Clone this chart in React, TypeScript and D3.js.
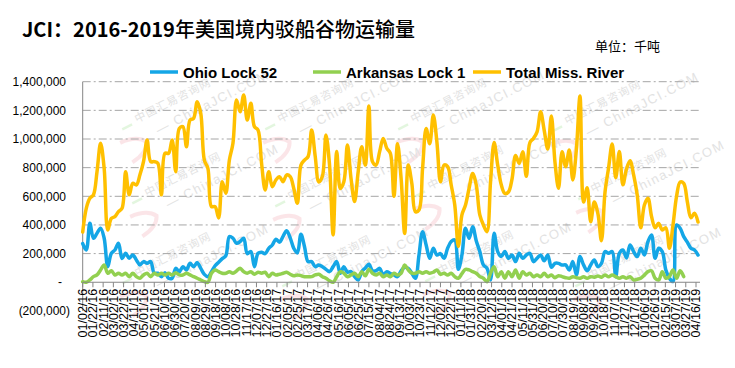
import React from 'react';
import * as d3 from 'd3';

// weekly values, thousand units, first week = 01/02/16
const startDate = new Date(Date.UTC(2016, 0, 2));

const ohioLock52 = [
  270, 225, 412, 307, 342, 377, 307, 109, 202, 225,
  272, 165, 202, 167, 191, 156, 121, 144, 132, 144,
  63, 63, 39, 67, 28, 28, 97, 74, 109, 86,
  132, 109, 137, 97, 55, 39, 74, 115, 140, 165,
  185, 319, 307, 272, 284, 307, 200, 214, 109, 202,
  210, 200, 237, 260, 300, 280, 320, 360, 310, 237,
  205, 335, 248, 144, 144, 109, 121, 109, 90, 74,
  109, 144, 63, 109, 70, 74, 39, 16, 74, 100,
  125, 80, 80, 97, 51, 74, 60, 51, 39, 80,
  105, 97, 63, 28, 190, 353, 260, 167, 237, 190,
  200, 167, 237, 284, 295, 90, 190, 377, 307, 388,
  290, 214, 121, 97, 16, 342, 214, 179, 214, 167,
  190, 144, 202, 167, 190, 202, 144, 167, 190, 150,
  190, 105, 132, 132, 120, 121, 86, 144, 51, 179,
  121, 80, 121, 156, 109, 132, 214, 202, 214, 39,
  202, 225, 170, 260, 214, 179, 237, 190, 284, 330,
  167, 237, 214, 86, 28, 5, 400, 377, 318, 280,
  237, 225, 190,
];

const arkansasLock1 = [
  4, 0, 16, 39, 51, 86, 121, 63, 81, 51,
  63, 51, 63, 39, 63, 39, 28, 51, 63, 39,
  63, 51, 63, 51, 63, 51, 67, 51, 51, 63,
  51, 39, 28, 16, 4, 0, 63, 86, 74, 63,
  63, 74, 63, 79, 97, 74, 63, 74, 56, 70,
  63, 70, 39, 63, 51, 56, 63, 70, 56, 45,
  51, 46, 39, 39, 39, 51, 56, 39, 28, 10,
  0, 39, 74, 63, 39, 51, 63, 39, 74, 45,
  90, 63, 51, 63, 39, 51, 39, 63, 51, 63,
  121, 86, 63, 63, 74, 63, 74, 63, 70, 86,
  55, 63, 51, 63, 39, 28, 60, 90, 86, 74,
  63, 39, 28, 4, 63, 109, 39, 74, 28, 74,
  39, 86, 28, 74, 51, 63, 39, 51, 39, 63,
  39, 51, 32, 46, 39, 32, 28, 39, 32, 28,
  39, 28, 39, 35, 44, 35, 51, 39, 51, 39,
  28, 39, 28, 39, 16, 21, 28, 50, 74, 80,
  28, 16, 74, 28, 40, 86, 28, 80, 39,
];

const totalMissRiver = [
  350, 516, 586, 610, 772, 970, 795, 365, 446, 458,
  493, 516, 772, 610, 690, 680, 750, 842, 993, 842,
  842, 830, 610, 900, 900, 993, 772, 1074, 1086, 946,
  1132, 1144, 1260, 1179, 853, 795, 528, 528, 449, 702,
  621, 853, 970, 1272, 1190, 1307, 1132, 1249, 1086, 1063,
  830, 644, 772, 667, 714, 737, 702, 749, 737, 655,
  551, 818, 853, 877, 1063, 877, 700, 740, 1028, 818,
  330, 912, 655, 702, 958, 725, 563, 772, 946, 818,
  1230, 842, 818, 912, 1004, 935, 900, 600, 967, 725,
  341, 818, 690, 493, 505, 795, 1074, 967, 1167, 981,
  702, 818, 807, 679, 539, 250, 470, 539, 655, 760,
  679, 470, 400, 353, 702, 975, 818, 680, 620, 630,
  720, 885, 830, 911, 740, 975, 1004, 1050, 1190, 1060,
  930, 1160, 840, 656, 911, 807, 923, 714, 930, 1300,
  560, 660, 423, 560, 480, 290, 630, 800, 965, 730,
  912, 680, 790, 848, 749, 609, 380, 539, 586, 460,
  380, 411, 365, 380, 237, 400, 600, 700, 690, 563,
  450, 481, 420,
];

const yTicks = [-200, 0, 200, 400, 600, 800, 1000, 1200, 1400];
const tickEveryDays = 20;
const tickCount = 61;

const seriesList = [
  { name: 'Ohio Lock 52', values: ohioLock52, color: '#14a6e6', legendX: 150 },
  { name: 'Arkansas Lock 1', values: arkansasLock1, color: '#92d050', legendX: 313 },
  { name: 'Total Miss. River', values: totalMissRiver, color: '#ffc000', legendX: 473 },
];

// watermark anchors (decoration)
const marks = [
  [137, 123], [280, 123], [413, 123], [567, 125],
  [147, 197], [290, 200], [430, 190], [593, 193],
  [137, 277], [297, 280], [440, 275], [590, 280],
];

const W = 735;
const H = 368;

export default function App() {
  const x = d3.scaleUtc()
    .domain([startDate, d3.utcDay.offset(startDate, tickEveryDays * (tickCount - 1))])
    .range([82.7, 696]);
  const y = d3.scaleLinear().domain([-200, 1400]).range([310.9, 81.7]);

  const weekX = (i: number) => x(d3.utcDay.offset(startDate, 7 * i));
  const line = d3.line<number>()
    .x((d, i) => weekX(i))
    .y(d => y(d))
    .curve(d3.curveCatmullRom.alpha(0.5));

  const ticks = d3.range(tickCount).map(k => d3.utcDay.offset(startDate, tickEveryDays * k));
  const fmtDate = d3.utcFormat('%m/%d/%y');
  const fmtNum = d3.format(',');
  const yLabel = (v: number) => (v === 0 ? '-' : v < 0 ? `(${fmtNum(-v * 1000)})` : fmtNum(v * 1000));
  const yLabelX = (v: number) => (v === 0 ? 62 : v < 0 ? 70 : 66);

  const axisFont = '"Liberation Sans", Arial, sans-serif';

  return (
    <svg width={W} height={H} style={{ position: 'absolute', left: 0, top: 0 }} xmlns="http://www.w3.org/2000/svg">
      <rect width={W} height={H} fill="#fff" />

      {/* watermark */}
      <g>
        {marks.map(([mx, my], k) => (
          <g key={k} transform={`translate(${mx},${my}) rotate(-27)`}>
            <path d="M -24 10 Q -6 11 0 21 Q -4 31 -22 33" fill="none" stroke="#f9d3d8" strokeWidth={4} opacity={0.6} />
            <line x1={-16} y1={-1} x2={-5} y2={-1} stroke="#d8f3d2" strokeWidth={2.5} opacity={0.7} />
            <text x={0} y={0} fontSize={11} fill="#e2e2e2" fontFamily='"Noto Sans CJK SC", sans-serif' letterSpacing={1}>中国汇易咨询网</text>
            <text x={14} y={20} fontSize={13} fill="#e2e2e2" fontFamily={axisFont} letterSpacing={1.5}>— ChinaJCI.COM</text>
          </g>
        ))}
      </g>

      {/* title */}
      <text x={22} y={37} fontSize={20} fontFamily='"Noto Sans CJK SC", sans-serif'>
        <tspan fontWeight={700}>JCI：2016-2019</tspan>
        <tspan fontWeight={500}>年美国境内驳船谷物运输量</tspan>
      </text>
      <text x={660} y={51} fontSize={13} textAnchor="end" fontFamily='"Noto Sans CJK SC", sans-serif'>单位：千吨</text>

      {/* legend */}
      {seriesList.map(s => (
        <g key={s.name}>
          <line x1={s.legendX} x2={s.legendX + 28} y1={72} y2={72} stroke={s.color} strokeWidth={3.5} />
          <text x={s.legendX + 33} y={77.5} fontSize={15} fontWeight={700} fontFamily={axisFont}>{s.name}</text>
        </g>
      ))}

      {/* grid */}
      {yTicks.filter(v => v > 0).map(v => (
        <line key={v} x1={82.7} x2={700} y1={y(v)} y2={y(v)} stroke="#a6a6a6" strokeWidth={1} strokeDasharray="8,3,2,3" />
      ))}

      {/* y axis */}
      <line x1={82.7} x2={82.7} y1={y(1400)} y2={y(-200)} stroke="#868686" strokeWidth={1} />
      {yTicks.map(v => (
        <text key={v} x={yLabelX(v)} y={y(v)} dy="0.35em" fontSize={12} textAnchor="end" fontFamily={axisFont}>{yLabel(v)}</text>
      ))}

      {/* series */}
      {seriesList.map(s => (
        <path key={s.name} d={line(s.values) || ''} fill="none" stroke={s.color} strokeWidth={3.5} strokeLinejoin="round" strokeLinecap="round" />
      ))}

      {/* x axis */}
      <line x1={82.7} x2={700} y1={y(0)} y2={y(0)} stroke="#868686" strokeWidth={1} />
      {ticks.map((t, k) => (
        <g key={k} transform={`translate(${x(t)},0)`}>
          <line y1={y(0)} y2={y(0) + 5} stroke="#868686" />
          <text transform={`translate(0,${y(0) + 6.5}) rotate(-90)`} dy="0.35em" fontSize={12.5} textAnchor="end" fontFamily={axisFont}>{fmtDate(t)}</text>
        </g>
      ))}
    </svg>
  );
}
